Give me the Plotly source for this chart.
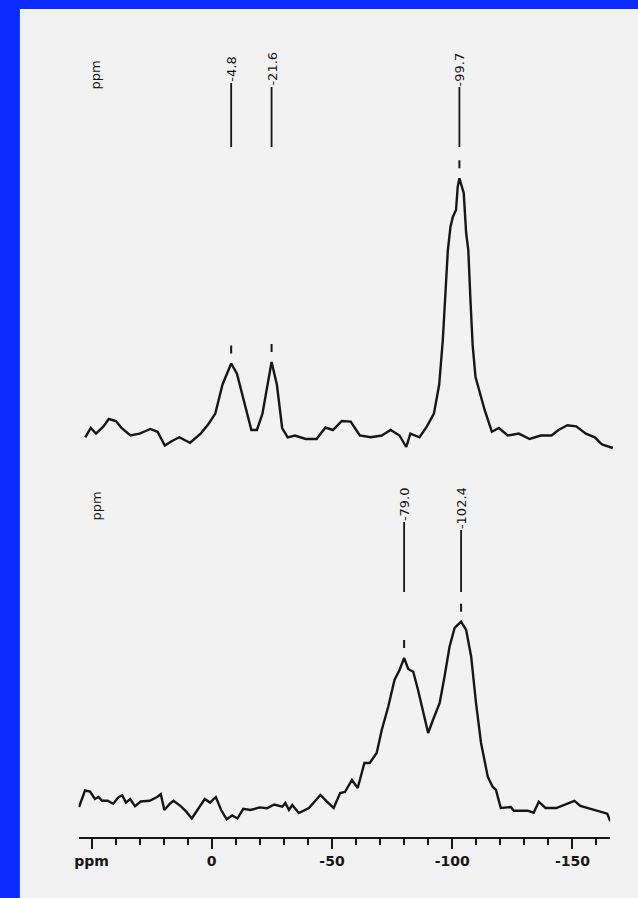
import plotly.graph_objects as go

# ---------------- data ----------------
# upper spectrum: chemical shift (ppm) and intensity (arbitrary units)
top_ppm = [55.9, 53.6, 51.4, 48.3, 46.1, 43.1, 40.8, 37.1, 33.3, 28.8, 25.8, 22.8,
           19.8, 16.8, 12.3, 7.9, 4.8, 1.8, -1.2, -4.8, -7.2, -10.2, -13.2, -15.5,
           -17.8, -21.6, -23.8, -26.0, -28.3, -31.3, -35.8, -40.3, -44.0, -47.1,
           -50.8, -54.5, -58.3, -62.8, -67.4, -71.1, -74.8, -77.6, -79.3, -83.1,
           -86.2, -89.1, -91.3, -92.8, -93.8, -94.9, -96.0, -97.0, -98.3, -99.0,
           -99.7, -101.5, -102.5, -103.4, -104.3, -105.2, -106.4, -110.2, -113.2,
           -116.1, -119.8, -124.4, -128.9, -133.5, -138.0, -140.9, -144.6, -148.3,
           -152.3, -156.0, -159.0, -163.5]
top_int = [32.7, 42, 36.4, 43.6, 51, 49, 42, 34.5, 36.4, 41, 38.2, 24.4,
           29, 32.7, 27.3, 36.4, 45.5, 56.4, 85.5, 106.5, 96.4, 67.3, 40, 40,
           56.4, 108, 85.5, 42, 32.7, 34.5, 31, 31, 42.5, 40,
           49, 48.4, 34.5, 32.7, 34.5, 40, 34.5, 23, 36.4, 32.7,
           43.6, 56.4, 85.5, 130, 180, 220, 243.3, 253.3, 260, 283.3,
           291.7, 277, 237, 220, 170, 125, 93, 60, 38.2,
           42, 34.5, 36.4, 31, 34.5, 34.5, 40, 44.7, 43.6,
           36.4, 32.7, 25.5, 22]

# lower spectrum
bot_ppm = [55.2, 52.7, 50.6, 48.6, 47.1, 45.6, 43.3, 41.0, 38.7, 37.2, 35.7, 33.9,
           31.9, 29.6, 25.8, 22.7, 21.2, 19.7, 17.4, 15.9, 12.8, 10.5, 8.3, 6.0,
           2.9, 0.7, -1.7, -3.9, -6.2, -8.5, -10.7, -13.1, -16.1, -19.9, -23.0,
           -26.0, -27.7, -29.3, -30.6, -32.1, -33.5, -36.2, -40.4, -45.2, -47.9,
           -50.7, -53.4, -55.4, -58.3, -60.7, -63.5, -65.7, -68.6, -70.7, -73.4,
           -76.0, -78.1, -80.0, -81.7, -83.8, -85.8, -87.9, -90.0, -92.0, -94.8,
           -96.8, -98.9, -101.0, -103.7, -105.8, -107.9, -109.9, -112.0, -114.8,
           -116.8, -118.2, -120.2, -124.4, -125.6, -131.3, -133.9, -136.0, -138.8,
           -143.3, -146.3, -150.8, -153.3, -156.2, -159.3, -162.3, -164.5, -165.7]
bot_int = [30, 46.5, 45.4, 38, 40, 36.2, 36.2, 33.3, 40, 41.7, 34.4, 38,
           30.7, 35.5, 36.2, 40, 42.8, 27, 33.3, 36.2, 30.7, 25.1, 18.5, 27,
           38, 34.4, 40, 27, 17.8, 21.5, 18.5, 28.1, 27, 29.6, 28.8,
           32.5, 31, 30.3, 34, 27, 32, 24, 29, 42, 35.3,
           29, 44, 45, 57, 49, 74, 74, 84, 107, 130.3,
           157, 167, 179, 168, 165.3, 147, 124, 104, 117, 134,
           160.3, 190.3, 209, 215.3, 207, 180.3, 134, 94, 60.3,
           50.3, 47, 29, 30, 26.3, 26.3, 24.3, 35.3, 29,
           29, 32, 36.2, 31, 29, 27, 25, 23.3, 16]

top_labels = [-4.8, -21.6, -99.7]
bot_labels = [-79.0, -102.4]
tick_vals = [50, 0, -50, -100, -150]
tick_text = ["ppm", "0", "-50", "-100", "-150"]

# ---------------- style / layout ----------------
W, H = 638, 898
INK = "#161616"
PAPER = "#f2f2f2"
BLUE = "#0c2cff"
FONT = dict(family="DejaVu Sans", size=13, color=INK)
TICKFONT = dict(family="DejaVu Sans", size=14, color=INK, weight="bold")


def peak_near(xs, ys, target, win=4.0):
    best = None
    for x, y in zip(xs, ys):
        if abs(x - target) <= win and (best is None or y > best[1]):
            best = (x, y)
    return best


fig = go.Figure()
fig.add_trace(go.Scatter(x=bot_ppm, y=bot_int, xaxis="x", yaxis="y", mode="lines",
                         line=dict(color=INK, width=2.4), hoverinfo="skip"))
fig.add_trace(go.Scatter(x=top_ppm, y=top_int, xaxis="x2", yaxis="y2", mode="lines",
                         line=dict(color=INK, width=2.4), hoverinfo="skip"))

shapes = [dict(type="rect", xref="paper", yref="paper", x0=16 / W, x1=1, y0=0,
               y1=1 - 9 / H, fillcolor=PAPER, line=dict(width=0), layer="below")]
annotations = []

# upper labels
top_line_bottom = 323
top_line_tops = [387, 383, 383]
for lab, ltop in zip(top_labels, top_line_tops):
    px, py = peak_near(top_ppm, top_int, lab)
    shapes.append(dict(type="line", xref="x2", yref="y2", x0=px, x1=px,
                       y0=top_line_bottom, y1=ltop, line=dict(color=INK, width=1.8)))
    shapes.append(dict(type="line", xref="x2", yref="y2", x0=px, x1=px,
                       y0=py + 10, y1=py + 18, line=dict(color=INK, width=2)))
    annotations.append(dict(xref="x2", yref="y2", x=px, y=ltop, text=f"{lab:.1f}",
                            textangle=-90, showarrow=False, xanchor="center",
                            yanchor="bottom", font=FONT, borderpad=0))

# lower labels
bot_line_bottom = 245
bot_line_tops = [315, 307]
for lab, ltop in zip(bot_labels, bot_line_tops):
    px, py = peak_near(bot_ppm, bot_int, lab)
    shapes.append(dict(type="line", xref="x", yref="y", x0=px, x1=px,
                       y0=bot_line_bottom, y1=ltop, line=dict(color=INK, width=1.8)))
    shapes.append(dict(type="line", xref="x", yref="y", x0=px, x1=px,
                       y0=py + 10, y1=py + 18, line=dict(color=INK, width=2)))
    annotations.append(dict(xref="x", yref="y", x=px, y=ltop, text=f"{lab:.1f}",
                            textangle=-90, showarrow=False, xanchor="center",
                            yanchor="bottom", font=FONT, borderpad=0))

# "ppm" captions of both traces
for yp in (75, 506):
    annotations.append(dict(xref="paper", yref="paper", x=93 / W, y=1 - yp / H,
                            text="ppm", textangle=-90, showarrow=False,
                            xanchor="center", yanchor="middle", font=FONT))

fig.update_layout(
    width=W, height=H, margin=dict(l=0, r=0, t=0, b=0),
    paper_bgcolor=BLUE, plot_bgcolor="rgba(0,0,0,0)", showlegend=False,
    shapes=shapes, annotations=annotations,
    xaxis=dict(domain=[75 / W, 610 / W], range=[55.4, -165.7], anchor="y",
               showline=True, linecolor=INK, linewidth=2, ticks="outside",
               ticklen=10, tickwidth=2, tickcolor=INK, tickmode="array",
               tickvals=tick_vals, ticktext=tick_text, tickfont=TICKFONT,
               showgrid=False, zeroline=False,
               minor=dict(tickmode="linear", tick0=0, dtick=10, ticklen=6,
                          tickwidth=2, tickcolor=INK, ticks="outside",
                          showgrid=False)),
    yaxis=dict(domain=[61 / H, 428 / H], range=[0, 367], visible=False),
    xaxis2=dict(domain=[0, 1], range=[217 / 2.42, (217 - W) / 2.42], anchor="y2",
                visible=False),
    yaxis2=dict(domain=[428 / H, 1], range=[0, 470], visible=False),
)

fig.write_html(
    "out.html",
    config={"displayModeBar": False, "staticPlot": True},
    post_script="document.body.style.margin='0';document.body.style.padding='0';"
                "document.body.style.background='" + BLUE + "';"
                "document.body.style.overflow='hidden';",
)
